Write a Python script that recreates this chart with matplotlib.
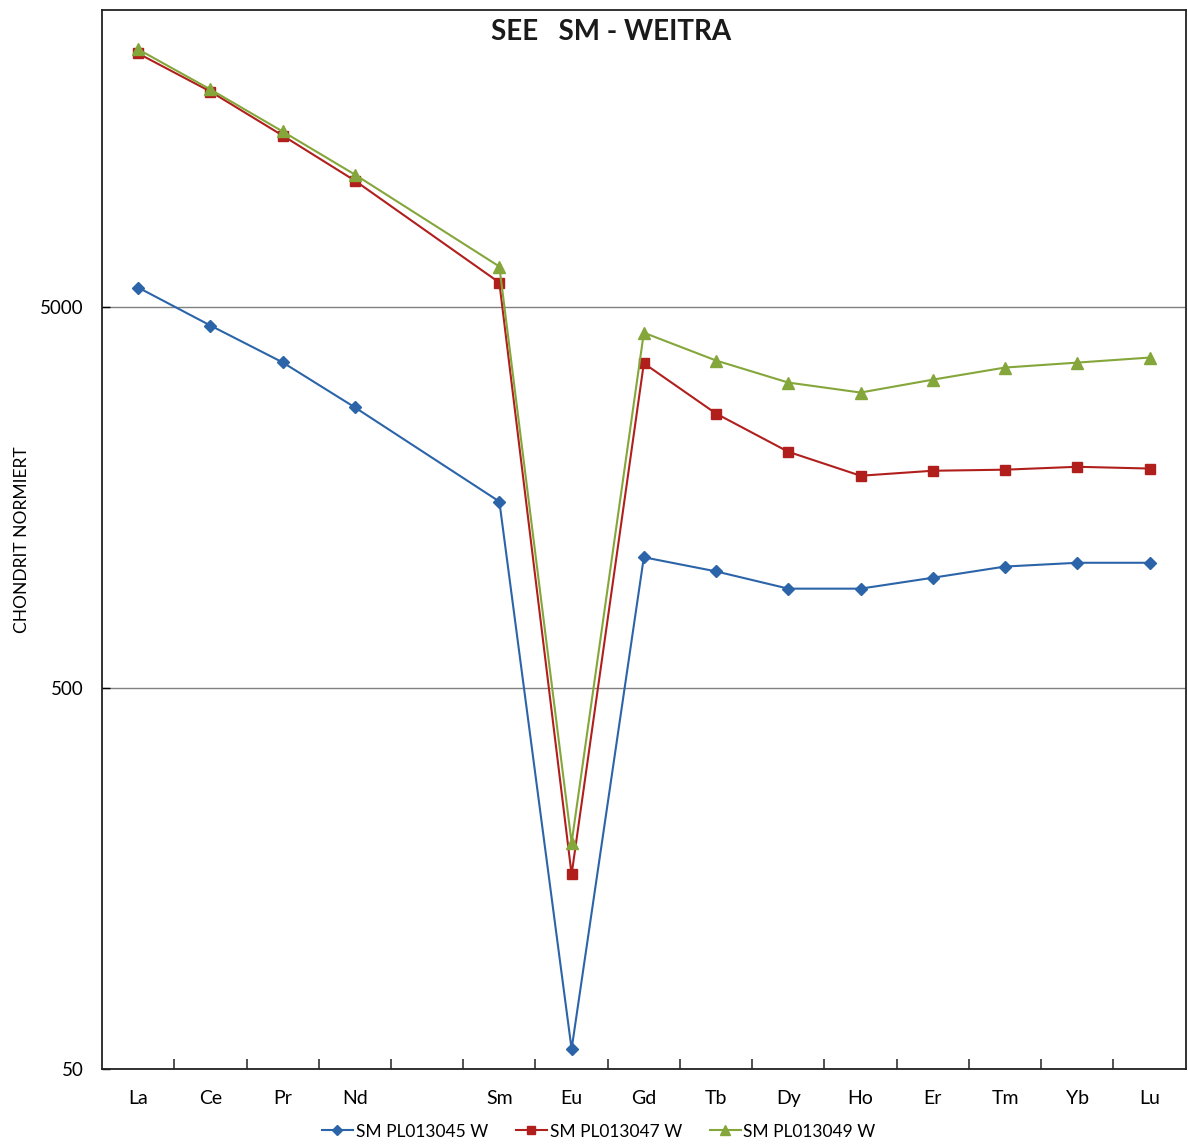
import matplotlib
matplotlib.use('Agg')
import matplotlib.pyplot as plt
import numpy as np
from matplotlib.ticker import FixedLocator, NullLocator

plt.rcParams['font.family'] = ['Lato', 'DejaVu Sans']

elements = ["La", "Ce", "Pr", "Nd", "", "Sm", "Eu", "Gd", "Tb", "Dy", "Ho", "Er", "Tm", "Yb", "Lu"]
pl013045 = [5610, 4460, 3570, 2720, None, 1540, 56.4, 1100, 1010, 910, 910, 972, 1040, 1064, 1064]
pl013047 = [23070, 18330, 14050, 10700, None, 5780, 162, 3550, 2620, 2080, 1800, 1855, 1867, 1900, 1880]
pl013049 = [23650, 18560, 14400, 11100, None, 6370, 196, 4270, 3610, 3160, 2975, 3216, 3460, 3565, 3675]
series_names = ["SM PL013045 W", "SM PL013047 W", "SM PL013049 W"]

fig = plt.figure(figsize=(11.88, 11.46), dpi=100)
ax = fig.add_axes([0.0859, 0.0672, 0.9121, 0.9241])

styles = [("#2B64A8", "D", 6), ("#B01F1C", "s", 7.5), ("#84A63A", "^", 8.5)]
for vals, name, (col, mk, ms) in zip([pl013045, pl013047, pl013049], series_names, styles):
    # Pm has no value: the line goes straight from Nd to Sm
    xs = [i for i, v in enumerate(vals) if v is not None]
    ys = [v for v in vals if v is not None]
    ax.plot(xs, ys, color=col, lw=1.5, marker=mk, ms=ms, mec=col, mfc=col, label=name)

ax.set_yscale('log')
ax.set_ylim(50, 30000)
ax.set_xlim(-0.5, len(elements) - 0.5)
ax.yaxis.set_major_locator(FixedLocator([50, 500, 5000]))
ax.yaxis.set_minor_locator(NullLocator())
ax.set_yticklabels(["50", "500", "5000"])
ax.grid(axis='y', color='#808080', lw=1)
ax.set_axisbelow(True)

ax.set_xticks(range(len(elements)))
ax.set_xticklabels(elements)
ax.set_xticks(np.arange(0.5, len(elements) - 0.5, 1), minor=True)
ax.tick_params(axis='x', which='major', length=0, pad=15, labelsize=14)
ax.tick_params(axis='x', which='minor', direction='in', length=7, width=1.2, color='#333333')
ax.tick_params(axis='y', direction='in', length=6, width=1, pad=13, labelsize=13.5)
for s in ax.spines.values():
    s.set_color('#222222')
    s.set_linewidth(1.3)

fig.text(22 / 1188, 0.529, "CHONDRIT NORMIERT", rotation=90, ha='center', va='center', fontsize=12.5)
fig.text(0.514, 0.972, "SEE   SM - WEITRA", ha='center', va='center', fontsize=20, fontweight='bold', color='#1a1a1a')

fig.legend(loc='lower center', bbox_to_anchor=(0.504, -0.008), ncol=3, frameon=False, fontsize=12.5,
           handlelength=1.8, handletextpad=0.15, columnspacing=1.6, markerscale=0.8)

fig.savefig("out.png", dpi=100)
